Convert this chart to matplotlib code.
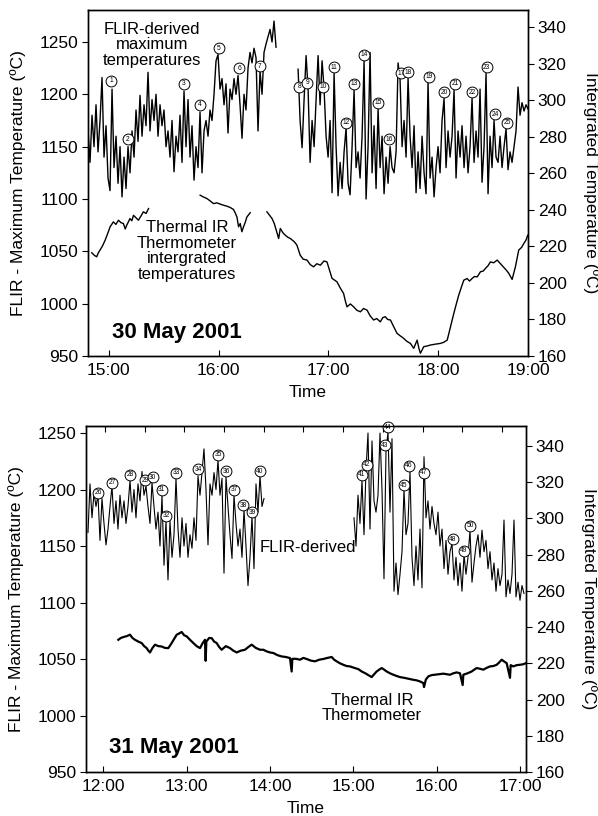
import numpy as np
import matplotlib
matplotlib.use("Agg")
import matplotlib.pyplot as plt

plt.rcParams['font.family'] = ['Liberation Sans', 'DejaVu Sans']

# ---------------- 30 May 2001 ----------------
# FLIR maximum temperature (deg C), evenly sampled runs; times in decimal hours
flir30_a_span = (14.811, 16.523)
flir30_a = [1165, 1135, 1180, 1150, 1190, 1145, 1175, 1216, 1140, 1170,
            1120, 1108, 1205, 1130, 1160, 1115, 1150, 1102, 1140, 1110,
            1150, 1125, 1165, 1140, 1185, 1155, 1199, 1160, 1190, 1170,
            1221, 1165, 1195, 1175, 1200, 1160, 1190, 1170, 1185, 1150,
            1165, 1140, 1175, 1126, 1160, 1145, 1180, 1135, 1203, 1150,
            1195, 1140, 1170, 1118, 1150, 1130, 1183, 1125, 1165, 1175,
            1160, 1185, 1175, 1200, 1232, 1238, 1205, 1215, 1190, 1210,
            1163, 1205, 1195, 1215, 1200, 1218, 1190, 1158, 1200, 1185,
            1225, 1240, 1230, 1244, 1235, 1165, 1222, 1200, 1240, 1248,
            1255, 1262, 1250, 1270, 1245]
flir30_b_span = (16.724, 18.818)
flir30_b = [1224, 1175, 1149, 1195, 1237, 1205, 1135, 1175, 1150, 1195,
            1237, 1190, 1232, 1205, 1160, 1140, 1175, 1106, 1220, 1150,
            1103, 1135, 1110, 1145, 1168, 1115, 1104, 1150, 1204, 1130,
            1145, 1120, 1160, 1232, 1100, 1150, 1240, 1125, 1170, 1110,
            1186, 1130, 1160, 1105, 1140, 1115, 1150, 1130, 1125, 1145,
            1230, 1214, 1150, 1175, 1140, 1215, 1160, 1130, 1170, 1106,
            1145, 1110, 1160, 1125, 1105, 1212, 1120, 1140, 1102, 1130,
            1150, 1125, 1175, 1196, 1130, 1165, 1140, 1160, 1204, 1120,
            1165, 1140, 1170, 1130, 1160, 1125, 1150, 1196, 1135, 1165,
            1140, 1205, 1116, 1150, 1220, 1105, 1160, 1130, 1175, 1140,
            1135, 1160, 1130, 1150, 1167, 1128, 1145, 1135, 1150, 1165,
            1207, 1180, 1192, 1184, 1190, 1186]

# Thermal IR thermometer integrated temperature (time h, deg C)
tir30_a = [(14.845, 216.5), (14.870, 215.0), (14.890, 214.3), (14.905, 216.5),
           (14.920, 217.9), (14.945, 220.5), (14.967, 223.4), (14.990, 227.0),
           (15.012, 230.7), (15.042, 233.4), (15.065, 232.0), (15.088, 234.3),
           (15.110, 233.0), (15.133, 232.5), (15.150, 229.5), (15.163, 231.5),
           (15.193, 235.2), (15.210, 234.0), (15.225, 237.0), (15.250, 235.5),
           (15.270, 234.3), (15.295, 236.8), (15.315, 238.9), (15.340, 238.0),
           (15.362, 240.7)]
tir30_b = [(15.832, 248.0), (15.862, 247.0), (15.893, 246.2), (15.920, 245.0),
           (15.953, 243.4), (15.985, 243.8), (16.015, 243.1), (16.045, 242.5),
           (16.075, 242.0), (16.105, 241.3), (16.135, 240.2), (16.150, 238.5),
           (16.167, 236.1), (16.182, 230.7), (16.197, 232.5), (16.212, 228.0),
           (16.227, 230.7), (16.242, 233.0), (16.258, 236.1), (16.288, 238.4)]
tir30_c = [(16.440, 238.9), (16.487, 235.2), (16.507, 232.5), (16.547, 224.3),
           (16.562, 229.8), (16.585, 227.5), (16.607, 226.1), (16.630, 225.0),
           (16.653, 224.3), (16.690, 222.5), (16.713, 220.7), (16.743, 215.2),
           (16.770, 213.0), (16.805, 212.5), (16.835, 210.0), (16.865, 208.8),
           (16.895, 210.5), (16.927, 209.7), (16.960, 212.0), (16.987, 211.5),
           (17.010, 207.0), (17.033, 202.5), (17.078, 200.6), (17.110, 197.0),
           (17.138, 194.3), (17.155, 190.0), (17.170, 186.9), (17.200, 188.5),
           (17.230, 186.9), (17.260, 185.0), (17.292, 184.2), (17.320, 186.0),
           (17.352, 185.1), (17.380, 182.0), (17.412, 179.7), (17.440, 180.5),
           (17.473, 178.7), (17.495, 181.0), (17.518, 181.5), (17.540, 180.0),
           (17.565, 179.7), (17.595, 176.0), (17.625, 172.4), (17.655, 171.0),
           (17.685, 169.7), (17.715, 168.0), (17.747, 166.9), (17.777, 164.2),
           (17.808, 168.7), (17.825, 164.0), (17.838, 161.5), (17.868, 165.1),
           (17.900, 165.5), (17.928, 166.0), (17.975, 166.5), (18.020, 166.9),
           (18.050, 167.5), (18.082, 168.7), (18.112, 176.0), (18.142, 183.3),
           (18.165, 188.5), (18.187, 193.3), (18.210, 197.5), (18.233, 201.5),
           (18.263, 202.4), (18.285, 201.0), (18.308, 202.4), (18.330, 203.5),
           (18.355, 203.3), (18.385, 206.1), (18.410, 206.5), (18.430, 207.9),
           (18.455, 209.5), (18.475, 211.5), (18.505, 211.0), (18.537, 212.5),
           (18.567, 210.5), (18.597, 208.5), (18.620, 207.0), (18.643, 205.2),
           (18.673, 201.9), (18.703, 208.8), (18.733, 217.9), (18.760, 219.5),
           (18.780, 221.6), (18.800, 223.5), (18.815, 226.1)]

# numbered FLIR peaks (time h, deg C)
peaks30 = [(15.020, 1213), (15.175, 1157), (15.685, 1210), (15.831, 1190),
           (16.004, 1244), (16.186, 1225), (16.377, 1227), (16.733, 1207),
           (16.806, 1211), (16.951, 1207), (17.051, 1226), (17.161, 1173),
           (17.234, 1210), (17.325, 1238), (17.452, 1192), (17.552, 1157),
           (17.662, 1220), (17.725, 1221), (17.917, 1217), (18.053, 1202),
           (18.153, 1210), (18.308, 1202), (18.441, 1226), (18.518, 1181),
           (18.627, 1173)]

# ---------------- 31 May 2001 ----------------
flir31_a_span = (11.816, 13.928)
flir31_a = [1162, 1205, 1175, 1197, 1185, 1195, 1155, 1192, 1170, 1151,
            1165, 1185, 1203, 1170, 1190, 1165, 1195, 1175, 1190, 1170,
            1185, 1208, 1180, 1200, 1175, 1205, 1190, 1216, 1195, 1203,
            1185, 1170, 1206, 1185, 1165, 1180, 1150, 1195, 1133, 1172,
            1120, 1172, 1140, 1160, 1210, 1165, 1140, 1175, 1150, 1170,
            1140, 1160, 1148, 1175, 1155, 1212, 1195, 1215, 1236, 1200,
            1151, 1205, 1195, 1215, 1200, 1226, 1195, 1210, 1126, 1211,
            1185, 1160, 1139, 1195, 1170, 1150, 1165, 1140, 1182, 1150,
            1115, 1140, 1176, 1130, 1205, 1180, 1212, 1185, 1192]
flir31_b_span = (15.008, 17.048)
flir31_b = [1175, 1150, 1195, 1170, 1208, 1160, 1217, 1250, 1165, 1243,
            1190, 1180, 1195, 1250, 1200, 1121, 1234, 1251, 1180, 1245,
            1110, 1135, 1107, 1125, 1145, 1200, 1160, 1170, 1216, 1140,
            1115, 1150, 1120, 1165, 1113, 1229, 1175, 1190, 1165, 1185,
            1170, 1160, 1180, 1150, 1165, 1130, 1155, 1125, 1145, 1152,
            1120, 1140, 1115, 1135, 1110, 1142, 1125, 1140, 1164, 1118,
            1135, 1150, 1160, 1140, 1164, 1145, 1155, 1130, 1145, 1120,
            1135, 1110, 1130, 1115, 1125, 1173, 1105, 1120, 1108, 1125,
            1173, 1105, 1118, 1102, 1115, 1108]

tir31 = [(12.180, 233.0), (12.210, 234.0), (12.240, 234.5), (12.280, 235.0),
         (12.320, 235.8), (12.350, 234.0), (12.380, 233.0), (12.420, 232.0),
         (12.460, 231.2), (12.490, 229.5), (12.520, 228.4), (12.540, 227.0),
         (12.560, 226.0), (12.590, 228.5), (12.620, 230.3), (12.660, 229.5),
         (12.700, 229.3), (12.740, 228.5), (12.780, 228.4), (12.820, 231.2),
         (12.850, 233.5), (12.880, 235.8), (12.910, 236.5), (12.940, 237.3),
         (12.970, 235.5), (13.000, 234.9), (13.040, 233.0), (13.080, 231.2),
         (13.120, 229.5), (13.160, 228.4), (13.190, 231.0), (13.220, 233.0),
         (13.228, 221.4), (13.236, 232.0), (13.270, 234.0), (13.300, 233.9),
         (13.330, 232.0), (13.360, 231.2), (13.390, 229.0), (13.420, 227.5),
         (13.470, 229.5), (13.520, 228.4), (13.560, 227.0), (13.600, 226.0),
         (13.650, 227.0), (13.700, 227.5), (13.740, 229.0), (13.780, 230.3),
         (13.830, 228.5), (13.880, 227.5), (13.920, 227.5), (13.960, 226.6),
         (14.000, 226.0), (14.040, 225.7), (14.090, 224.5), (14.140, 223.8),
         (14.190, 223.5), (14.240, 222.9), (14.260, 215.5), (14.268, 222.5),
         (14.310, 222.5), (14.360, 222.0), (14.400, 223.0), (14.440, 222.4),
         (14.490, 221.5), (14.540, 221.1), (14.590, 222.0), (14.640, 222.4),
         (14.690, 223.0), (14.740, 223.5), (14.770, 222.0), (14.800, 221.1),
         (14.840, 220.0), (14.880, 219.2), (14.920, 218.5), (14.960, 218.3),
         (15.010, 217.5), (15.060, 216.8), (15.100, 215.5), (15.140, 214.6),
         (15.180, 213.5), (15.220, 212.4), (15.250, 214.0), (15.280, 215.5),
         (15.310, 216.5), (15.340, 217.4), (15.370, 216.5), (15.400, 215.5),
         (15.440, 214.5), (15.480, 213.7), (15.520, 213.0), (15.560, 212.4),
         (15.610, 212.0), (15.660, 211.5), (15.710, 211.0), (15.760, 210.6),
         (15.800, 210.0), (15.840, 209.1), (15.848, 206.9), (15.870, 211.0),
         (15.900, 212.8), (15.940, 213.5), (15.980, 213.7), (16.030, 214.0),
         (16.080, 214.3), (16.120, 214.0), (16.160, 213.7), (16.200, 214.5),
         (16.240, 215.0), (16.280, 214.5), (16.312, 208.0), (16.320, 213.7),
         (16.370, 214.5), (16.420, 215.5), (16.450, 216.5), (16.480, 217.4),
         (16.520, 217.0), (16.560, 216.5), (16.600, 217.5), (16.640, 218.3),
         (16.680, 218.5), (16.720, 219.2), (16.750, 220.5), (16.780, 222.0),
         (16.810, 221.0), (16.840, 220.1), (16.880, 212.0), (16.888, 219.0),
         (16.920, 218.3), (16.960, 219.0), (17.000, 219.2), (17.040, 219.5),
         (17.072, 220.1)]

peaks31 = [(11.936, 1197), (12.104, 1206), (12.320, 1213), (12.500, 1208),
           (12.592, 1211), (12.700, 1200), (12.752, 1177), (12.872, 1215),
           (13.136, 1218), (13.376, 1231), (13.472, 1216), (13.568, 1200),
           (13.676, 1186), (13.784, 1180), (13.880, 1216), (15.100, 1213),
           (15.160, 1222), (15.380, 1239), (15.412, 1255), (15.608, 1204),
           (15.668, 1221), (15.848, 1215), (16.192, 1156), (16.328, 1146),
           (16.400, 1168)]

# axis ticks
hours30 = [15, 16, 17, 18, 18.818]
hour_labels30 = ['15:00', '16:00', '17:00', '18:00', '19:00']
hours31 = [12, 13, 14, 15, 16, 17]
hour_labels31 = ['12:00', '13:00', '14:00', '15:00', '16:00', '17:00']
top_ticks31 = [12.020, 12.496, 12.973, 13.449, 13.925, 14.402, 14.878,
               15.354, 15.831, 16.307, 16.783]

fig = plt.figure(figsize=(5.98, 8.16), dpi=100)
ax1 = fig.add_axes([0.1472, 0.5637, 0.7358, 0.4240])
ax1r = ax1.twinx()
ax2 = fig.add_axes([0.1438, 0.0539, 0.7358, 0.4240])
ax2r = ax2.twinx()


def run(span, vals):
    t = np.linspace(span[0], span[1], len(vals))
    return t, np.array(vals)


def pairs(p):
    a = np.array(p)
    return a[:, 0], a[:, 1]


def peaks(ax, pk, first):
    for i, (t, v) in enumerate(pk):
        ax.plot(t, v, 'o', ms=7.8, mfc='white', mec='black', mew=0.7,
                zorder=6, clip_on=False)
        ax.text(t, v, str(first + i), fontsize=4.8, ha='center', va='center',
                zorder=7)


# top panel
for span, vals in [(flir30_a_span, flir30_a), (flir30_b_span, flir30_b)]:
    t, v = run(span, vals)
    ax1.plot(t, v, color='black', lw=1.0)
for seg in [tir30_a, tir30_b, tir30_c]:
    t, v = pairs(seg)
    ax1r.plot(t, v, color='black', lw=1.0)
peaks(ax1, peaks30, 1)

# bottom panel
for span, vals in [(flir31_a_span, flir31_a), (flir31_b_span, flir31_b)]:
    t, v = run(span, vals)
    ax2.plot(t, v, color='black', lw=0.8)
t, v = pairs(tir31)
ax2r.plot(t, v, color='black', lw=1.6)
peaks(ax2, peaks31, 26)

fs = 12.5
for ax, axr, xl, ylo, yhi, rhi in [(ax1, ax1r, (14.811, 18.818), 950, 1280.5, 349.3),
                                    (ax2, ax2r, (11.792, 17.072), 950, 1256.2, 351.0)]:
    ax.set_xlim(*xl)
    ax.set_ylim(ylo, yhi)
    axr.set_ylim(160, rhi)
    ax.set_yticks([950, 1000, 1050, 1100, 1150, 1200, 1250])
    axr.set_yticks([160, 180, 200, 220, 240, 260, 280, 300, 320, 340])
    ax.tick_params(axis='x', direction='in', length=4, pad=5, labelsize=fs)
    ax.tick_params(axis='y', direction='out', length=4, pad=3, labelsize=fs)
    axr.tick_params(axis='y', direction='out', length=4, pad=3, labelsize=fs)
    ax.set_ylabel('FLIR - Maximum Temperature (ºC)', fontsize=fs, labelpad=10)
    axr.set_ylabel('Intergrated Temperature (ºC)', fontsize=fs, rotation=270,
                   va='bottom', labelpad=12)
    ax.set_xlabel('Time', fontsize=fs, labelpad=5)
    for a in (ax, axr):
        for s in a.spines.values():
            s.set_linewidth(1.0)

ax1.set_xticks(hours30)
ax1.set_xticklabels(hour_labels30)
ax2.set_xticks(hours31)
ax2.set_xticklabels(hour_labels31)
top2 = ax2.secondary_xaxis('top')
top2.set_xticks(top_ticks31)
top2.tick_params(direction='in', length=4, labeltop=False)

# annotations
ax1.text(0.1455, 0.899, 'FLIR-derived\nmaximum\ntemperatures', transform=ax1.transAxes,
         ha='center', va='center', fontsize=12, linespacing=1.05)
ax1.text(0.225, 0.3035, 'Thermal IR\nThermometer\nintergrated\ntemperatures',
         transform=ax1.transAxes, ha='center', va='center', fontsize=12,
         linespacing=1.05)
ax1.text(0.0545, 0.069, '30 May 2001', transform=ax1.transAxes, ha='left',
         va='center', fontsize=16, fontweight='bold')
ax2.text(0.395, 0.650, 'FLIR-derived', transform=ax2.transAxes, ha='left',
         va='center', fontsize=12)
ax2.text(0.65, 0.185, 'Thermal IR\nThermometer', transform=ax2.transAxes,
         ha='center', va='center', fontsize=12, linespacing=1.05)
ax2.text(0.052, 0.072, '31 May 2001', transform=ax2.transAxes, ha='left',
         va='center', fontsize=16, fontweight='bold')

fig.savefig('out.png', dpi=100)
